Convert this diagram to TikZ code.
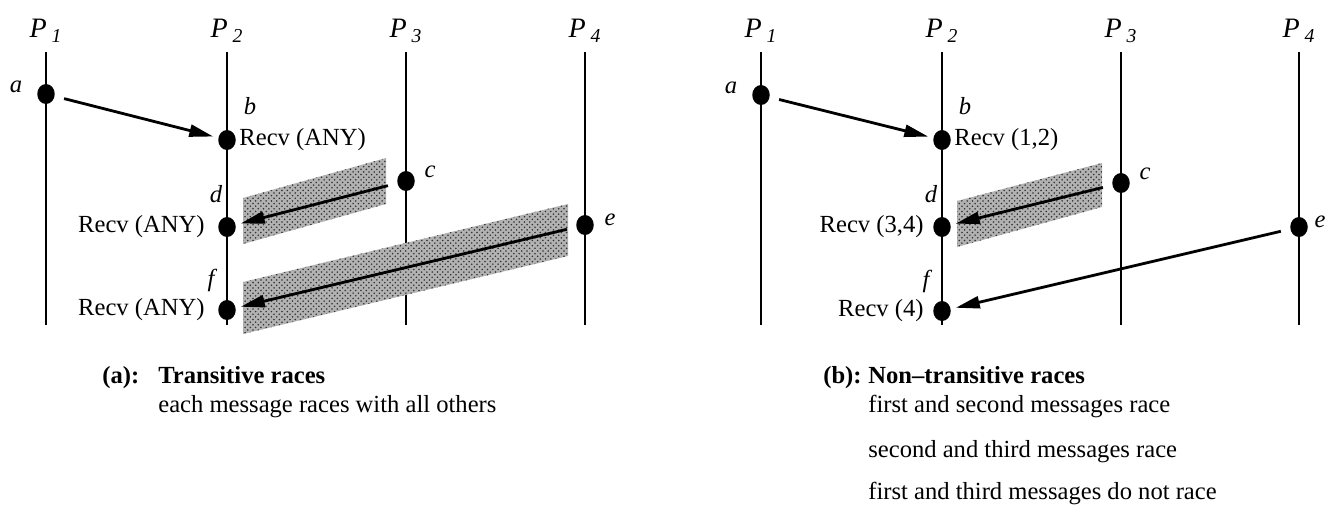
\documentclass[tikz,border=0pt]{standalone}
\usepackage{fontspec}
\setmainfont{Liberation Serif}
\usetikzlibrary{arrows.meta,shapes.geometric,calc,patterns}

\begin{document}
\begin{tikzpicture}[
  x=0.02cm, y=-0.02cm,
  font=\fontsize{14}{16}\selectfont,
  proc/.style={line width=1.6pt},
  pname/.style={inner sep=0pt, font=\fontsize{16}{16}\selectfont\itshape},
  ev/.style={ellipse, fill, inner sep=0pt, minimum width=0.35cm, minimum height=0.4cm},
  evname/.style={inner sep=0pt, font=\fontsize{14}{16}\selectfont\itshape},
  recv/.style={inner sep=0pt},
  msg/.style={-{Triangle[length=0.48cm, width=0.24cm]}, line width=1.6pt,
              shorten <=0.19cm, shorten >=0.1cm},
  race/.style={fill=black!30, postaction={pattern=crosshatch dots, pattern color=black!80}},
  captxt/.style={inner sep=0pt, anchor=base west}
]
\useasboundingbox (0,0) rectangle (1328,504);

% (a) transitive races
\foreach \i/\x in {1/46,2/227,3/406,4/585} {
  \draw[proc] (\x,52) -- (\x,325);
  \node[pname] (tP\i) at (\x,31) {P\,\textsubscript{\i}};
}
\fill[race] (243,198) -- (386,158) -- (386,204) -- (243,244) -- cycle;
\fill[race] (243,282) -- (568,204) -- (568,256) -- (243,334) -- cycle;

\node[ev] (tA) at (46,94) {};
\node[ev] (tB) at (227,140) {};
\node[ev] (tC) at (406,181) {};
\node[ev] (tD) at (227,227) {};
\node[ev] (tE) at (585,225) {};
\node[ev] (tF) at (227,310) {};

\node[evname] (ta) at ($(tA)+(-30,-7)$) {a};
\node[evname] (tb) at ($(tB)+(23,-34)$) {b};
\node[evname] (tc) at ($(tC)+(24,-9)$) {c};
\node[evname] (td) at ($(tD)+(-11,-33)$) {d};
\node[evname] (te) at ($(tE)+(25,-5)$) {e};
\node[evname] (tf) at ($(tF)+(-16,-30)$) {f};

\node[recv, anchor=west] (trb) at ($(tB.east)+(3,0)$) {Recv (ANY)};
\node[recv, anchor=east] (trd) at ($(tD.west)+(-13,0)$) {Recv (ANY)};
\node[recv, anchor=east] (trf) at ($(tF.west)+(-13,0)$) {Recv (ANY)};

\draw[msg] (tA) -- (tB);
\draw[msg] (tC) -- (tD);
\draw[msg] (tE) -- (tF);

\node[captxt] (tlab) at (102,383) {\textbf{(a):}};
\node[captxt] (ttitle) at (158,383) {\textbf{Transitive races}};
\node[captxt] (tline) at (158,412) {each message races with all others};

% (b) non-transitive races
\begin{scope}[shift={(715,0)}]
\foreach \i/\x in {1/46,2/227,3/406,4/584} {
  \draw[proc] (\x,52) -- (\x,325);
  \node[pname] (nP\i) at (\x,31) {P\,\textsubscript{\i}};
}
\fill[race] (242,201) -- (387,163) -- (387,207) -- (242,247) -- cycle;

\node[ev] (nA) at (46,95) {};
\node[ev] (nB) at (227,140) {};
\node[ev] (nC) at (406,183) {};
\node[ev] (nD) at (227,227) {};
\node[ev] (nE) at (584,227) {};
\node[ev] (nF) at (227,311) {};

\node[evname] (na) at ($(nA)+(-30,-7)$) {a};
\node[evname] (nb) at ($(nB)+(23,-34)$) {b};
\node[evname] (nc) at ($(nC)+(24,-9)$) {c};
\node[evname] (nd) at ($(nD)+(-11,-33)$) {d};
\node[evname] (ne) at ($(nE)+(21,-5)$) {e};
\node[evname] (nf) at ($(nF)+(-16,-30)$) {f};

\node[recv, anchor=west] (nrb) at ($(nB.east)+(3,0)$) {Recv (1,2)};
\node[recv, anchor=east] (nrd) at ($(nD.west)+(-9,0)$) {Recv (3,4)};
\node[recv, anchor=east] (nrf) at ($(nF.west)+(-9,0)$) {Recv (4)};

\draw[msg] (nA) -- (nB);
\draw[msg] (nC) -- (nD);
\draw[msg] (nE) -- (nF);

\node[captxt] (nlab) at (108,383) {\textbf{(b):}};
\node[captxt] (ntitle) at (153,383) {\textbf{Non--transitive races}};
\node[captxt] (nline1) at (153,412) {first and second messages race};
\node[captxt] (nline2) at (153,457) {second and third messages race};
\node[captxt] (nline3) at (153,499) {first and third messages do not race};
\end{scope}
\end{tikzpicture}
\end{document}
